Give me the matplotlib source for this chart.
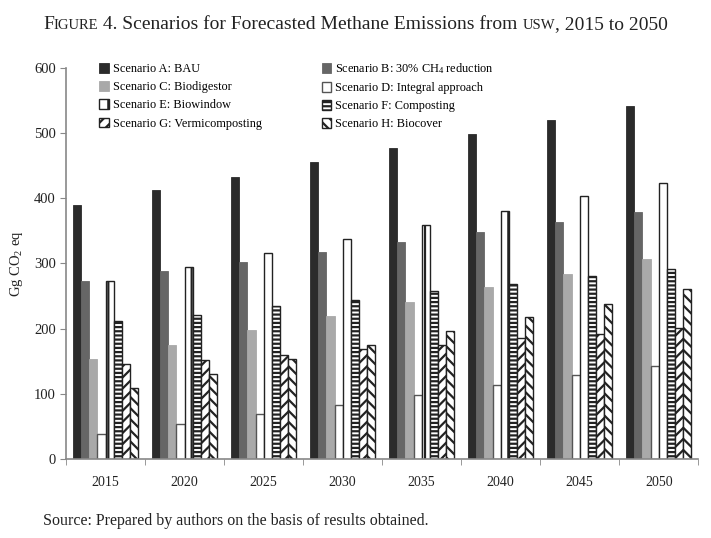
import numpy as np
import matplotlib
matplotlib.use("Agg")
import matplotlib.pyplot as plt

plt.rcParams["font.family"] = ["Liberation Serif", "DejaVu Serif"]
plt.rcParams["mathtext.fontset"] = "custom"
plt.rcParams["mathtext.rm"] = "Liberation Serif"
plt.rcParams["mathtext.it"] = "Liberation Serif:italic"
plt.rcParams["hatch.linewidth"] = 1.6
plt.rcParams["hatch.color"] = "#222222"

years = ["2015", "2020", "2025", "2030", "2035", "2040", "2045", "2050"]
labels = ["Scenario A: BAU", "Scenario B: 30% CH$_4$ reduction",
          "Scenario C: Biodigestor", "Scenario D: Integral approach",
          "Scenario E: Biowindow", "Scenario F: Composting",
          "Scenario G: Vermicomposting", "Scenario H: Biocover"]
bau = [390, 412, 433, 455, 477, 498, 520, 542]
ch4_reduction = [273, 288, 302, 317, 333, 348, 363, 379]
biodigestor = [154, 175, 197, 219, 240, 263, 284, 306]
integral = [38, 53, 69, 83, 98, 114, 128, 143]
biowindow = [273, 295, 316, 338, 359, 380, 403, 424]
composting = [211, 221, 234, 244, 257, 269, 280, 292]
vermicomposting = [145, 152, 160, 169, 175, 185, 192, 201]
biocover = [109, 131, 153, 174, 196, 217, 238, 260]

series = [bau, ch4_reduction, biodigestor, integral,
          biowindow, composting, vermicomposting, biocover]
faces = ["#2b2b2b", "#666666", "#a9a9a9", "white",
         "white", "white", "white", "white"]
edges = ["#2b2b2b", "#666666", "#a9a9a9", "#555555",
         "#222222", "#222222", "#222222", "#222222"]
hatches = [None, None, None, None, "|", "----", "///", "\\\\\\"]


def smallcaps_line(fig, y, pieces, xc):
    renderer = fig.canvas.get_renderer()
    texts = []
    widths = []
    for s, size in pieces:
        t = fig.text(0, y, s, fontsize=size, ha="left", va="baseline",
                     color="#222222")
        bb = t.get_window_extent(renderer)
        texts.append(t)
        widths.append(bb.width / fig.bbox.width)
    x = xc - sum(widths) / 2
    for t, w in zip(texts, widths):
        t.set_x(x)
        x += w


fig = plt.figure(figsize=(7.11, 5.38), dpi=100)
ax = fig.add_axes([0.093, 0.147, 0.889, 0.727])

x = np.arange(len(years))
w = 0.103
handles = []
for i, vals in enumerate(series):
    b = ax.bar(x - 4 * w + (i + 0.5) * w, vals, width=w, color=faces[i],
               edgecolor=edges[i], hatch=hatches[i],
               linewidth=1.0 if i >= 3 else 0.6, label=labels[i])
    handles.append(b)

ax.set_xlim(-0.5, len(years) - 0.5)
ax.set_ylim(0, 600)
ax.set_yticks(range(0, 601, 100))
ax.set_xticks(x)
ax.set_xticklabels(years, fontsize=10, color="#222222")
ax.set_xticks(np.arange(-0.5, len(years), 1), minor=True)
ax.tick_params(axis="x", which="major", length=0, pad=12)
ax.tick_params(axis="x", which="minor", length=4, color="#888888", direction="out")
ax.tick_params(axis="y", length=4, color="#888888", labelsize=10.5,
               labelcolor="#222222")
for s in ["top", "right"]:
    ax.spines[s].set_visible(False)
for s in ["left", "bottom"]:
    ax.spines[s].set_color("#888888")
    ax.spines[s].set_linewidth(1.2)

ax.set_ylabel("Gg CO$_2$ eq", fontsize=10.5, color="#222222", labelpad=6)

order = [0, 2, 4, 6, 1, 3, 5, 7]
ax.legend([handles[i] for i in order], [labels[i] for i in order],
          ncol=2, loc="upper left", bbox_to_anchor=(0.035, 1.045),
          frameon=False, fontsize=8.8, handlelength=0.8, handleheight=0.8,
          handletextpad=0.3, columnspacing=4.9, labelspacing=0.5)

smallcaps_line(fig, 0.946,
               [("F", 14), ("IGURE", 10.5), (" 4. Scenarios for Forecasted Methane Emissions from ", 14),
                ("USW", 10.5), (", 2015 to 2050", 14)], 0.5)

fig.text(0.06, 0.025, "Source: Prepared by authors on the basis of results obtained.",
         fontsize=11.5, color="#222222")

fig.savefig("out.png", dpi=100)
